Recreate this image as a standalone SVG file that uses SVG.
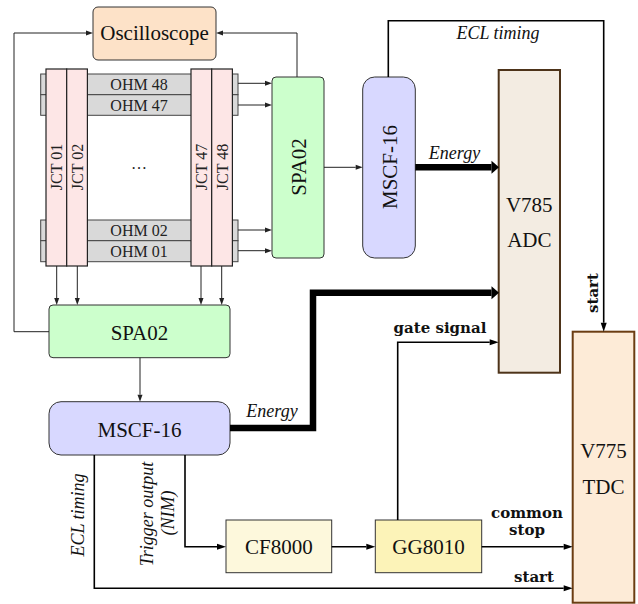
<svg xmlns="http://www.w3.org/2000/svg" width="638" height="604" viewBox="0 0 638 604">
<style>
.lbl{font-family:"Liberation Serif","Times New Roman",serif;font-size:21px;fill:#111;text-anchor:middle}
.sm{font-family:"Liberation Serif","Times New Roman",serif;font-size:16px;fill:#222;text-anchor:middle}
.it{font-family:"Liberation Serif","Times New Roman",serif;font-style:italic;font-size:18px;fill:#111;text-anchor:middle}
.bd{font-family:"DejaVu Serif","Liberation Serif",serif;font-weight:bold;font-size:15px;fill:#111;text-anchor:middle}
.thin{fill:none;stroke:#222;stroke-width:1}
.med{fill:none;stroke:#000;stroke-width:1.6}
.thick{fill:none;stroke:#000;stroke-width:6.5}
.box{stroke:#333;stroke-width:1}
</style>
<defs>
<marker id="aThin" markerUnits="userSpaceOnUse" markerWidth="8" markerHeight="6" refX="0" refY="2.5" orient="auto" overflow="visible"><path d="M0,0 L7,2.5 L0,5 z" fill="#222"/></marker>
<marker id="aMed" markerUnits="userSpaceOnUse" markerWidth="10" markerHeight="7" refX="0" refY="3" orient="auto" overflow="visible"><path d="M0,0 L9,3 L0,6 z" fill="#000"/></marker>
<marker id="aThick" markerUnits="userSpaceOnUse" markerWidth="8" markerHeight="14" refX="0" refY="6.5" orient="auto" overflow="visible"><path d="M0,0 L7.5,6.5 L0,13 z" fill="#000"/></marker>
</defs>

<g id="oscilloscope">
<rect x="93" y="7" width="123" height="53" rx="5" fill="#fde2c8" class="box"/>
<text class="lbl" x="154.5" y="40">Oscilloscope</text>
</g>

<g id="ohm-bars">
<rect x="40.7" y="74" width="197.3" height="20.7" fill="#d9d9d9" stroke="#444" stroke-width="1"/>
<rect x="40.7" y="94.7" width="197.3" height="20.6" fill="#d9d9d9" stroke="#444" stroke-width="1"/>
<rect x="40.7" y="220" width="197.3" height="20.7" fill="#d9d9d9" stroke="#444" stroke-width="1"/>
<rect x="40.7" y="240.7" width="197.3" height="21" fill="#d9d9d9" stroke="#444" stroke-width="1"/>
<text class="sm" x="139" y="90">OHM 48</text>
<text class="sm" x="139" y="110.5">OHM 47</text>
<text class="sm" x="139" y="236">OHM 02</text>
<text class="sm" x="139" y="257">OHM 01</text>
<text class="sm" x="139" y="169">…</text>
</g>

<g id="jct-bars">
<rect x="46" y="69" width="20.7" height="197" fill="#fde6e6" stroke="#222" stroke-width="1.2"/>
<rect x="66.7" y="69" width="20.7" height="197" fill="#fde6e6" stroke="#222" stroke-width="1.2"/>
<rect x="191" y="69" width="20.7" height="197" fill="#fde6e6" stroke="#222" stroke-width="1.2"/>
<rect x="211.7" y="69" width="20.7" height="197" fill="#fde6e6" stroke="#222" stroke-width="1.2"/>
<text class="sm" transform="translate(62,167) rotate(-90)">JCT 01</text>
<text class="sm" transform="translate(82.7,167) rotate(-90)">JCT 02</text>
<text class="sm" transform="translate(207,167) rotate(-90)">JCT 47</text>
<text class="sm" transform="translate(227.7,167) rotate(-90)">JCT 48</text>
</g>

<g id="spa02-v">
<rect x="272" y="77" width="52" height="181" rx="4" fill="#ccffcc" class="box"/>
<text class="lbl" transform="translate(305.5,167) rotate(-90)">SPA02</text>
</g>

<g id="mscf16-v">
<rect x="362.7" y="77" width="52.6" height="181" rx="12" fill="#d8d8ff" class="box"/>
<text class="lbl" transform="translate(396.5,167) rotate(-90)">MSCF-16</text>
</g>

<g id="v785-adc">
<rect x="498.7" y="70" width="61.3" height="302.7" fill="#f3ece2" stroke="#4d3319" stroke-width="2"/>
<text class="lbl" x="529.3" y="211.7">V785</text>
<text class="lbl" x="529.3" y="247">ADC</text>
</g>

<g id="spa02-h">
<rect x="49" y="305" width="181" height="52.7" rx="4" fill="#ccffcc" class="box"/>
<text class="lbl" x="139.5" y="340">SPA02</text>
</g>

<g id="mscf16-h">
<rect x="49" y="401.7" width="181" height="53.3" rx="12" fill="#d8d8ff" class="box"/>
<text class="lbl" x="139.5" y="436.7">MSCF-16</text>
</g>

<g id="cf8000">
<rect x="226" y="520" width="105.7" height="52.7" fill="#fdf8dc" class="box"/>
<text class="lbl" x="278.8" y="554">CF8000</text>
</g>

<g id="gg8010">
<rect x="375.3" y="520" width="106.4" height="52.7" fill="#fcf3b8" class="box"/>
<text class="lbl" x="428.5" y="554">GG8010</text>
</g>

<g id="v775-tdc">
<rect x="572.7" y="331.7" width="61.6" height="271" fill="#fdebd7" stroke="#6b3d12" stroke-width="2"/>
<text class="lbl" x="603.5" y="458">V775</text>
<text class="lbl" x="603.5" y="494">TDC</text>
</g>

<g id="connectors">
<path class="thin" d="M49,331.7 H14 V33 H86" marker-end="url(#aThin)"/>
<path class="thin" d="M297,77 V33 H223" marker-end="url(#aThin)"/>
<path class="thin" d="M238,83.3 H265" marker-end="url(#aThin)"/>
<path class="thin" d="M238,105 H265" marker-end="url(#aThin)"/>
<path class="thin" d="M238,230 H265" marker-end="url(#aThin)"/>
<path class="thin" d="M238,250.7 H265" marker-end="url(#aThin)"/>
<path class="thin" d="M56.7,266 V298" marker-end="url(#aThin)"/>
<path class="thin" d="M77.3,266 V298" marker-end="url(#aThin)"/>
<path class="thin" d="M201,266 V298" marker-end="url(#aThin)"/>
<path class="thin" d="M221.7,266 V298" marker-end="url(#aThin)"/>
<path class="thin" d="M324,167.3 H355.7" marker-end="url(#aThin)"/>
<path class="thin" d="M140,357.7 V394.7" marker-end="url(#aThin)"/>
<path class="thick" d="M415.3,167.3 H491.5" marker-end="url(#aThick)"/>
<path class="thick" d="M230,428 H313 V292.7 H491.5" marker-end="url(#aThick)"/>
<path class="med" d="M388.3,77 V20.7 H603.7 V322.7" marker-end="url(#aMed)"/>
<path class="med" d="M94.3,455 V588.3 H563.7" marker-end="url(#aMed)"/>
<path class="med" d="M185,455 V546.7 H217" marker-end="url(#aMed)"/>
<path class="med" d="M331.7,546.7 H366.3" marker-end="url(#aMed)"/>
<path class="med" d="M397.7,520 V342.3 H489.7" marker-end="url(#aMed)"/>
<path class="med" d="M481.7,546.7 H563.7" marker-end="url(#aMed)"/>
<text class="it" x="498" y="39">ECL timing</text>
<text class="it" x="454.5" y="159">Energy</text>
<text class="it" x="272" y="416.7">Energy</text>
<text class="it" transform="translate(84,515) rotate(-90)">ECL timing</text>
<text class="it" transform="translate(152.5,514) rotate(-90)">Trigger output</text>
<text class="it" transform="translate(173.5,513) rotate(-90)">(NIM)</text>
<text class="bd" x="440" y="333">gate signal</text>
<text class="bd" x="527" y="518">common</text>
<text class="bd" x="527" y="535">stop</text>
<text class="bd" x="534" y="581.5">start</text>
<text class="bd" transform="translate(598,293) rotate(-90)">start</text>
</g>
</svg>
